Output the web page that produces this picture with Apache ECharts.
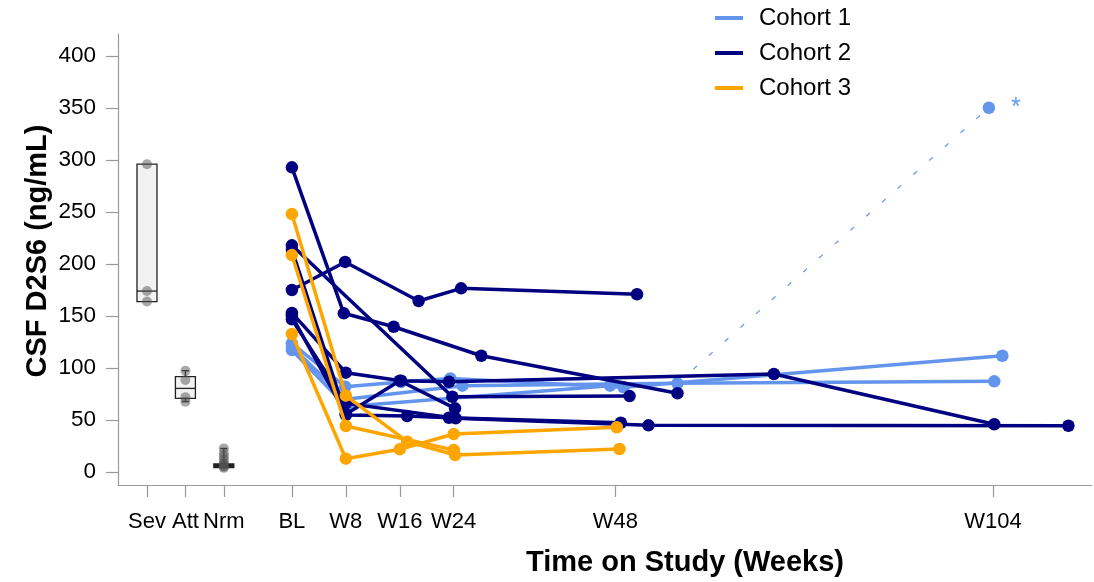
<!DOCTYPE html>
<html><head><meta charset="utf-8">
<script src="https://cdn.jsdelivr.net/npm/echarts@6/dist/echarts.min.js"></script>
<style>html,body{margin:0;padding:0;background:#fff}#c{width:1094px;height:582px}</style>
</head><body><div id="c"></div>
<script>
// ---- tick labels ----
const xTickValues = [-21.5, -15.8, -10.1, 0, 8, 16, 24, 48, 104];
const xTickLabels = ['Sev', 'Att', 'Nrm', 'BL', 'W8', 'W16', 'W24', 'W48', 'W104'];
const yTickValues = [0, 50, 100, 150, 200, 250, 300, 350, 400];

// ---- reference groups (box plots) ----
const refGroups = ['Sev', 'Att', 'Nrm'];
const refPositions = [-21.5, -15.8, -10.1];
// [min, q1, median, q3, max]
const refBoxSev = [163.8, 163.8, 174, 296, 296];
const refBoxAtt = [67.6, 70.8, 80.4, 91.7, 97.4];
const refBoxNrm = [4, 4.2, 6.5, 7.7, 22.7];
const refPointsSev = [296, 174, 164];
const refPointsAtt = [97.4, 88.5, 72, 67.6];
const refPointsNrm = [22.7, 18, 15, 12, 9, 7.5, 6, 5, 4];

// ---- subjects: [week, CSF D2S6 ng/mL] ----
const cohortNames = ['Cohort 1', 'Cohort 2', 'Cohort 3'];
const cohort1A = [[0, 123.7], [7.9, 82], [16.2, 86.5], [23.5, 90], [49.2, 81.4], [105.4, 111.8]];
const cohort1B = [[0, 117.3], [8.1, 63], [47.2, 83]];
const cohort1C = [[0, 120.5], [8.0, 70], [25.3, 83], [57.2, 85.3], [104.2, 87.2]];
const cohort1Outlier = [[57.2, 85.3], [103.4, 350.3]];

const cohort2A = [[0, 293], [7.7, 152.6], [15.1, 139.7], [28.1, 111.8], [57.2, 75.7]];
const cohort2B = [[0, 175], [7.9, 202], [18.8, 164.4], [25.1, 176.6], [51.2, 170.9]];
const cohort2C = [[0, 218], [23.8, 72.4], [50.1, 73]];
const cohort2D = [[0, 153], [8.0, 95.5], [16.2, 87.8], [23.3, 86.8], [71.5, 94.2], [104.2, 45.9]];
const cohort2E = [[0, 146.8], [8.0, 66], [24.3, 51.6], [52.9, 44.9], [115.2, 44.5]];
const cohort2F = [[0, 214], [8.0, 54.8], [17.1, 53.8], [23.3, 52.2], [48.8, 47.4]];
const cohort2G = [[0, 150], [8.0, 55.5], [16.0, 87.8], [24.2, 61.2]];

const cohort3A = [[0, 248], [8.0, 73.4], [17.1, 29.2], [24.2, 16.3], [48.6, 22.1]];
const cohort3B = [[0, 208.6], [8.0, 44.2], [24.0, 21.2]];
const cohort3C = [[0, 132.7], [8.0, 12.8], [16.0, 21.8], [24.0, 36.5], [48.2, 43]];

const colors = ['#6495ED', '#000080', '#FFA500'];
const FONT = 'Liberation Sans, Arial, Helvetica, sans-serif';

const series = [];

// box plots
const boxData = [refBoxSev, refBoxAtt, refBoxNrm].map((b, i) => [refPositions[i]].concat(b));
series.push({
  type: 'custom',
  name: 'ref',
  data: boxData,
  encode: { x: 0, y: [1, 2, 3, 4, 5] },
  z: 1,
  renderItem: function (params, api) {
    const x = api.value(0);
    const lo = api.coord([x, api.value(1)]);
    const q1 = api.coord([x, api.value(2)]);
    const md = api.coord([x, api.value(3)]);
    const q3 = api.coord([x, api.value(4)]);
    const hi = api.coord([x, api.value(5)]);
    const cx = q3[0], hw = 10, cw = 3.5;
    const st = { stroke: '#222', lineWidth: 1.3, fill: null };
    const thin = (q1[1] - q3[1]) < 6;
    const ch = [
      { type: 'rect', shape: { x: cx - hw, y: q3[1], width: 2 * hw, height: q1[1] - q3[1] },
        style: { fill: thin ? '#222' : '#f2f2f2', stroke: '#222', lineWidth: 1.3 } },
      { type: 'line', shape: { x1: cx - hw, y1: md[1], x2: cx + hw, y2: md[1] }, style: st }
    ];
    if (hi[1] < q3[1] - 0.5) {
      ch.push({ type: 'line', shape: { x1: cx, y1: hi[1], x2: cx, y2: q3[1] }, style: st });
      ch.push({ type: 'line', shape: { x1: cx - cw, y1: hi[1], x2: cx + cw, y2: hi[1] }, style: st });
    }
    if (lo[1] > q1[1] + 0.5) {
      ch.push({ type: 'line', shape: { x1: cx, y1: q1[1], x2: cx, y2: lo[1] }, style: st });
      ch.push({ type: 'line', shape: { x1: cx - cw, y1: lo[1], x2: cx + cw, y2: lo[1] }, style: st });
    }
    return { type: 'group', children: ch };
  }
});
// reference points
const refPts = [];
[refPointsSev, refPointsAtt, refPointsNrm].forEach((arr, i) => arr.forEach(v => refPts.push([refPositions[i], v])));
series.push({
  type: 'scatter', name: 'refpts', data: refPts, symbolSize: 10, z: 2,
  itemStyle: { color: 'rgba(80,80,80,0.62)' }
});

function addSubjects(list, idx) {
  list.forEach(d => series.push({
    type: 'line', name: cohortNames[idx], data: d, z: 3 + idx,
    symbol: 'circle', symbolSize: 12.5, showSymbol: true,
    lineStyle: { width: 3.5, color: colors[idx] },
    itemStyle: { color: colors[idx] },
    color: colors[idx]
  }));
}
addSubjects([cohort1A, cohort1B, cohort1C], 0);
// dotted outlier link
series.push({
  type: 'line', name: 'outlier', z: 3,
  data: [
    { value: cohort1Outlier[0], symbol: 'none' },
    { value: cohort1Outlier[1], symbol: 'circle',
      label: { show: true, formatter: '*', position: 'right', distance: 16,
               fontSize: 25, color: '#5b9cf0', fontFamily: FONT } }
  ],
  symbolSize: 12.5,
  lineStyle: { width: 1.2, type: [5, 16], color: colors[0] },
  itemStyle: { color: colors[0] }
});
addSubjects([cohort2A, cohort2B, cohort2C, cohort2D, cohort2E, cohort2F, cohort2G], 1);
addSubjects([cohort3A, cohort3B, cohort3C], 2);

const chart = echarts.init(document.getElementById('c'), null, { renderer: 'canvas' });
chart.setOption({
  animation: false,
  backgroundColor: '#ffffff',
  grid: { left: 118, right: 2, top: 34, bottom: 97, containLabel: false, outerBoundsMode: 'none' },
  legend: {
    data: cohortNames.map(n => ({ name: n, icon: 'rect' })),
    orient: 'vertical', left: 715, top: 6, padding: 0,
    itemWidth: 28, itemHeight: 4, itemGap: 11,
    textStyle: { fontSize: 24, color: '#000', fontFamily: FONT, padding: [0, 0, 0, 11] }
  },
  xAxis: {
    type: 'value', min: -25.8, max: 118.7,
    axisLine: { show: true, onZero: false, lineStyle: { color: '#999', width: 1.2 } },
    axisTick: { show: true, customValues: xTickValues, length: 12, lineStyle: { color: '#999', width: 1.2 } },
    axisLabel: {
      customValues: xTickValues, margin: 26, fontSize: 22, color: '#000', fontFamily: FONT,
      formatter: v => { const i = xTickValues.indexOf(v); return i >= 0 ? xTickLabels[i] : ''; }
    },
    splitLine: { show: false }
  },
  yAxis: {
    type: 'value', min: -12.5, max: 421.2,
    axisLine: { show: true, onZero: false, lineStyle: { color: '#999', width: 1.2 } },
    axisTick: { show: true, customValues: yTickValues, length: 12, lineStyle: { color: '#999', width: 1.2 } },
    axisLabel: { customValues: yTickValues, margin: 22, fontSize: 22.5, color: '#000', fontFamily: FONT },
    splitLine: { show: false }
  },
  graphic: [
    { type: 'text', x: 685, y: 563, style: { text: 'Time on Study (Weeks)', font: 'bold 29px ' + FONT, fill: '#000', textAlign: 'center', textVerticalAlign: 'middle' } },
    { type: 'text', x: 38, y: 251, rotation: Math.PI / 2, style: { text: 'CSF D2S6 (ng/mL)', font: 'bold 29px ' + FONT, fill: '#000', textAlign: 'center', textVerticalAlign: 'middle' } }
  ],
  series: series
});
</script></body></html>
